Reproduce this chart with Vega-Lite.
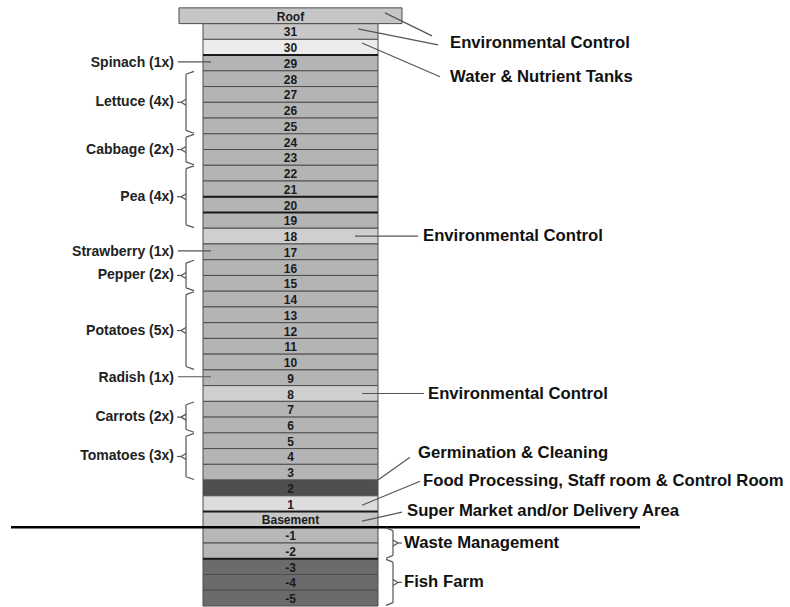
{
  "$schema": "https://vega.github.io/schema/vega-lite/v6.json",
  "width": 790,
  "height": 607,
  "padding": 0,
  "autosize": {"type": "fit", "contains": "padding"},
  "background": "white",
  "config": {
    "view": {"stroke": null},
    "axis": {"disable": true},
    "legend": {"disable": true},
    "text": {"font": "Liberation Sans", "fontWeight": "bold", "baseline": "middle"}
  },
  "datasets": {
    "floors": [
      {"floor": "Roof", "level": 32, "use": "roof"},
      {"floor": "31", "level": 31, "use": "environment"},
      {"floor": "30", "level": 30, "use": "water"},
      {"floor": "29", "level": 29, "use": "crops"},
      {"floor": "28", "level": 28, "use": "crops"},
      {"floor": "27", "level": 27, "use": "crops"},
      {"floor": "26", "level": 26, "use": "crops"},
      {"floor": "25", "level": 25, "use": "crops"},
      {"floor": "24", "level": 24, "use": "crops"},
      {"floor": "23", "level": 23, "use": "crops"},
      {"floor": "22", "level": 22, "use": "crops"},
      {"floor": "21", "level": 21, "use": "crops"},
      {"floor": "20", "level": 20, "use": "crops"},
      {"floor": "19", "level": 19, "use": "crops"},
      {"floor": "18", "level": 18, "use": "environment2"},
      {"floor": "17", "level": 17, "use": "crops"},
      {"floor": "16", "level": 16, "use": "crops"},
      {"floor": "15", "level": 15, "use": "crops"},
      {"floor": "14", "level": 14, "use": "crops"},
      {"floor": "13", "level": 13, "use": "crops"},
      {"floor": "12", "level": 12, "use": "crops"},
      {"floor": "11", "level": 11, "use": "crops"},
      {"floor": "10", "level": 10, "use": "crops"},
      {"floor": "9", "level": 9, "use": "crops"},
      {"floor": "8", "level": 8, "use": "environment2"},
      {"floor": "7", "level": 7, "use": "crops"},
      {"floor": "6", "level": 6, "use": "crops"},
      {"floor": "5", "level": 5, "use": "crops"},
      {"floor": "4", "level": 4, "use": "crops"},
      {"floor": "3", "level": 3, "use": "crops"},
      {"floor": "2", "level": 2, "use": "germination"},
      {"floor": "1", "level": 1, "use": "processing"},
      {"floor": "Basement", "level": 0, "use": "market"},
      {"floor": "-1", "level": -1, "use": "waste"},
      {"floor": "-2", "level": -2, "use": "waste"},
      {"floor": "-3", "level": -3, "use": "fish"},
      {"floor": "-4", "level": -4, "use": "fish"},
      {"floor": "-5", "level": -5, "use": "fish"}
    ],
    "seams": [
      {"between": "30/29", "level": 29.5},
      {"between": "21/20", "level": 20.5},
      {"between": "20/19", "level": 19.5},
      {"between": "1/Basement", "level": 0.5},
      {"between": "-2/-3", "level": -2.5}
    ],
    "ground": [{"between": "Basement/-1", "level": -0.5}],
    "crops": [
      {"crop": "Spinach (1x)", "top": 29, "bottom": 29, "mid": 29, "kind": "single"},
      {"crop": "Lettuce (4x)", "top": 28, "bottom": 25, "mid": 26.5, "kind": "group"},
      {"crop": "Cabbage (2x)", "top": 24, "bottom": 23, "mid": 23.5, "kind": "group"},
      {"crop": "Pea (4x)", "top": 22, "bottom": 19, "mid": 20.5, "kind": "group"},
      {"crop": "Strawberry (1x)", "top": 17, "bottom": 17, "mid": 17, "kind": "single"},
      {"crop": "Pepper (2x)", "top": 16, "bottom": 15, "mid": 15.5, "kind": "group"},
      {"crop": "Potatoes (5x)", "top": 14, "bottom": 10, "mid": 12, "kind": "group"},
      {"crop": "Radish (1x)", "top": 9, "bottom": 9, "mid": 9, "kind": "single"},
      {"crop": "Carrots (2x)", "top": 7, "bottom": 6, "mid": 6.5, "kind": "group"},
      {"crop": "Tomatoes (3x)", "top": 5, "bottom": 3, "mid": 4, "kind": "group"}
    ],
    "zones": [
      {"zone": "Waste Management", "top": -1, "bottom": -2, "mid": -1.5},
      {"zone": "Fish Farm", "top": -3, "bottom": -5, "mid": -4}
    ],
    "notes": [
      {"id": "envTop", "label": "Environmental Control", "level": 30.27},
      {"id": "water", "label": "Water & Nutrient Tanks", "level": 28.12},
      {"id": "env18", "label": "Environmental Control", "level": 18},
      {"id": "env8", "label": "Environmental Control", "level": 8},
      {"id": "germ", "label": "Germination & Cleaning", "level": 4.2},
      {"id": "food", "label": "Food Processing, Staff room & Control Room", "level": 2.43},
      {"id": "market", "label": "Super Market and/or Delivery Area", "level": 0.53}
    ],
    "leaders": [
      {"id": "roof", "from": 32.18, "to": 30.72},
      {"id": "env31", "from": 31.16, "to": 30.15},
      {"id": "water", "from": 30.27, "to": 28.12},
      {"id": "env18", "from": 18, "to": 18},
      {"id": "env8", "from": 8, "to": 8},
      {"id": "germ", "from": 1.92, "to": 3.95},
      {"id": "food", "from": 0.9, "to": 2.43},
      {"id": "market", "from": -0.11, "to": 0.46}
    ]
  },
  "layer": [
    {
      "data": {"name": "floors"},
      "transform": [{"filter": "datum.floor !== 'Roof'"}],
      "mark": {"type": "rect", "stroke": "#4d4d4d", "strokeWidth": 1, "yOffset": -7.88, "y2Offset": 7.88},
      "encoding": {
        "x": {"datum": 203, "type": "quantitative", "scale": {"domain": [0, 790], "nice": false, "zero": false}, "axis": null},
        "x2": {"datum": 378},
        "y": {"field": "level", "type": "quantitative", "scale": {"domain": [-5.5, 33], "nice": false, "zero": false}, "axis": null},
        "y2": {"field": "level"},
        "fill": {
          "field": "use", "type": "nominal", "legend": null,
          "scale": {
            "domain": ["roof", "environment", "environment2", "water", "crops", "germination", "processing", "market", "waste", "fish"],
            "range": ["#c6c6c6", "#c8c8c8", "#cfcfcf", "#ececec", "#b4b4b4", "#4f4f4f", "#dddddd", "#c6c6c6", "#b7b7b7", "#6b6b6b"]
          }
        }
      }
    },
    {
      "data": {"name": "floors"},
      "transform": [{"filter": "datum.floor === 'Roof'"}],
      "mark": {"type": "rect", "stroke": "#4d4d4d", "strokeWidth": 1, "yOffset": -7.88, "y2Offset": 7.88},
      "encoding": {
        "x": {"datum": 179, "type": "quantitative"},
        "x2": {"datum": 402},
        "y": {"field": "level", "type": "quantitative"},
        "y2": {"field": "level"},
        "fill": {"field": "use", "type": "nominal", "legend": null}
      }
    },
    {
      "data": {"name": "seams"},
      "mark": {"type": "rule", "color": "#1a1a1a", "strokeWidth": 2},
      "encoding": {
        "x": {"datum": 203, "type": "quantitative"},
        "x2": {"datum": 378},
        "y": {"field": "level", "type": "quantitative"}
      }
    },
    {
      "data": {"name": "floors"},
      "mark": {"type": "text", "fontSize": 12, "color": "#1b1b1b", "dy": 1},
      "encoding": {
        "x": {"datum": 290.5, "type": "quantitative"},
        "y": {"field": "level", "type": "quantitative"},
        "text": {"field": "floor"}
      }
    },
    {
      "data": {"name": "ground"},
      "mark": {"type": "rule", "color": "#000000", "strokeWidth": 2.5},
      "encoding": {
        "x": {"datum": 11, "type": "quantitative"},
        "x2": {"datum": 640},
        "y": {"field": "level", "type": "quantitative"}
      }
    },
    {
      "data": {"name": "crops"},
      "mark": {"type": "text", "fontSize": 14, "align": "right", "color": "#222222"},
      "encoding": {
        "x": {"datum": 174, "type": "quantitative"},
        "y": {"field": "mid", "type": "quantitative"},
        "text": {"field": "crop"}
      }
    },
    {
      "data": {"name": "crops"},
      "transform": [{"filter": "datum.kind === 'single'"}],
      "mark": {"type": "rule", "color": "#555555", "strokeWidth": 1.2, "yOffset": -1},
      "encoding": {
        "x": {"datum": 178, "type": "quantitative"},
        "x2": {"datum": 211},
        "y": {"field": "mid", "type": "quantitative"}
      }
    },
    {
      "data": {"name": "crops"},
      "transform": [{"filter": "datum.kind === 'group'"}],
      "layer": [
        {
          "mark": {"type": "rule", "color": "#555555", "strokeWidth": 1.2, "yOffset": -4.5, "y2Offset": 4.5},
          "encoding": {
            "x": {"datum": 186, "type": "quantitative"},
            "y": {"field": "top", "type": "quantitative"},
            "y2": {"field": "bottom"}
          }
        },
        {
          "mark": {"type": "rule", "color": "#555555", "strokeWidth": 1.2, "yOffset": -4.5, "y2Offset": -7.3},
          "encoding": {
            "x": {"datum": 186, "type": "quantitative"},
            "x2": {"datum": 194},
            "y": {"field": "top", "type": "quantitative"},
            "y2": {"field": "top"}
          }
        },
        {
          "mark": {"type": "rule", "color": "#555555", "strokeWidth": 1.2, "yOffset": 4.5, "y2Offset": 7.3},
          "encoding": {
            "x": {"datum": 186, "type": "quantitative"},
            "x2": {"datum": 194},
            "y": {"field": "bottom", "type": "quantitative"},
            "y2": {"field": "bottom"}
          }
        },
        {
          "mark": {"type": "rule", "color": "#555555", "strokeWidth": 1.2, "yOffset": -3},
          "encoding": {
            "x": {"datum": 186, "type": "quantitative"},
            "x2": {"datum": 181},
            "y": {"field": "mid", "type": "quantitative"},
            "y2": {"field": "mid"}
          }
        },
        {
          "mark": {"type": "rule", "color": "#555555", "strokeWidth": 1.2, "yOffset": 3},
          "encoding": {
            "x": {"datum": 186, "type": "quantitative"},
            "x2": {"datum": 181},
            "y": {"field": "mid", "type": "quantitative"},
            "y2": {"field": "mid"}
          }
        },
        {
          "mark": {"type": "rule", "color": "#555555", "strokeWidth": 1.2},
          "encoding": {
            "x": {"datum": 177, "type": "quantitative"},
            "x2": {"datum": 181},
            "y": {"field": "mid", "type": "quantitative"}
          }
        }
      ]
    },
    {
      "data": {"name": "zones"},
      "layer": [
        {
          "mark": {"type": "rule", "color": "#555555", "strokeWidth": 1.2, "yOffset": -4.5, "y2Offset": 4.5},
          "encoding": {
            "x": {"datum": 393, "type": "quantitative"},
            "y": {"field": "top", "type": "quantitative"},
            "y2": {"field": "bottom"}
          }
        },
        {
          "mark": {"type": "rule", "color": "#555555", "strokeWidth": 1.2, "yOffset": -4.5, "y2Offset": -7.3},
          "encoding": {
            "x": {"datum": 393, "type": "quantitative"},
            "x2": {"datum": 386},
            "y": {"field": "top", "type": "quantitative"},
            "y2": {"field": "top"}
          }
        },
        {
          "mark": {"type": "rule", "color": "#555555", "strokeWidth": 1.2, "yOffset": 4.5, "y2Offset": 7.3},
          "encoding": {
            "x": {"datum": 393, "type": "quantitative"},
            "x2": {"datum": 386},
            "y": {"field": "bottom", "type": "quantitative"},
            "y2": {"field": "bottom"}
          }
        },
        {
          "mark": {"type": "rule", "color": "#555555", "strokeWidth": 1.2, "yOffset": -3},
          "encoding": {
            "x": {"datum": 393, "type": "quantitative"},
            "x2": {"datum": 398},
            "y": {"field": "mid", "type": "quantitative"},
            "y2": {"field": "mid"}
          }
        },
        {
          "mark": {"type": "rule", "color": "#555555", "strokeWidth": 1.2, "yOffset": 3},
          "encoding": {
            "x": {"datum": 393, "type": "quantitative"},
            "x2": {"datum": 398},
            "y": {"field": "mid", "type": "quantitative"},
            "y2": {"field": "mid"}
          }
        },
        {
          "mark": {"type": "rule", "color": "#555555", "strokeWidth": 1.2},
          "encoding": {
            "x": {"datum": 398, "type": "quantitative"},
            "x2": {"datum": 402},
            "y": {"field": "mid", "type": "quantitative"}
          }
        },
        {
          "mark": {"type": "text", "fontSize": 16.7, "align": "left", "color": "#111111"},
          "encoding": {
            "x": {"datum": 404, "type": "quantitative"},
            "y": {"field": "mid", "type": "quantitative"},
            "text": {"field": "zone"}
          }
        }
      ]
    },
    {
      "data": {"name": "notes"},
      "transform": [{"filter": "datum.id === 'envTop' || datum.id === 'water'"}],
      "mark": {"type": "text", "fontSize": 16.7, "align": "left", "color": "#111111"},
      "encoding": {"x": {"datum": 450, "type": "quantitative"}, "y": {"field": "level", "type": "quantitative"}, "text": {"field": "label"}}
    },
    {
      "data": {"name": "notes"},
      "transform": [{"filter": "datum.id === 'env18' || datum.id === 'food'"}],
      "mark": {"type": "text", "fontSize": 16.7, "align": "left", "color": "#111111"},
      "encoding": {"x": {"datum": 423, "type": "quantitative"}, "y": {"field": "level", "type": "quantitative"}, "text": {"field": "label"}}
    },
    {
      "data": {"name": "notes"},
      "transform": [{"filter": "datum.id === 'env8'"}],
      "mark": {"type": "text", "fontSize": 16.7, "align": "left", "color": "#111111"},
      "encoding": {"x": {"datum": 428, "type": "quantitative"}, "y": {"field": "level", "type": "quantitative"}, "text": {"field": "label"}}
    },
    {
      "data": {"name": "notes"},
      "transform": [{"filter": "datum.id === 'germ'"}],
      "mark": {"type": "text", "fontSize": 16.7, "align": "left", "color": "#111111"},
      "encoding": {"x": {"datum": 418, "type": "quantitative"}, "y": {"field": "level", "type": "quantitative"}, "text": {"field": "label"}}
    },
    {
      "data": {"name": "notes"},
      "transform": [{"filter": "datum.id === 'market'"}],
      "mark": {"type": "text", "fontSize": 16.7, "align": "left", "color": "#111111"},
      "encoding": {"x": {"datum": 407, "type": "quantitative"}, "y": {"field": "level", "type": "quantitative"}, "text": {"field": "label"}}
    },
    {
      "data": {"name": "leaders"},
      "transform": [{"filter": "datum.id === 'roof'"}],
      "mark": {"type": "rule", "color": "#555555", "strokeWidth": 1.2},
      "encoding": {"x": {"datum": 385, "type": "quantitative"}, "x2": {"datum": 432}, "y": {"field": "from", "type": "quantitative"}, "y2": {"field": "to"}}
    },
    {
      "data": {"name": "leaders"},
      "transform": [{"filter": "datum.id === 'env31'"}],
      "mark": {"type": "rule", "color": "#555555", "strokeWidth": 1.2},
      "encoding": {"x": {"datum": 358, "type": "quantitative"}, "x2": {"datum": 438}, "y": {"field": "from", "type": "quantitative"}, "y2": {"field": "to"}}
    },
    {
      "data": {"name": "leaders"},
      "transform": [{"filter": "datum.id === 'water'"}],
      "mark": {"type": "rule", "color": "#555555", "strokeWidth": 1.2},
      "encoding": {"x": {"datum": 362, "type": "quantitative"}, "x2": {"datum": 440}, "y": {"field": "from", "type": "quantitative"}, "y2": {"field": "to"}}
    },
    {
      "data": {"name": "leaders"},
      "transform": [{"filter": "datum.id === 'env18'"}],
      "mark": {"type": "rule", "color": "#555555", "strokeWidth": 1.2},
      "encoding": {"x": {"datum": 355, "type": "quantitative"}, "x2": {"datum": 418}, "y": {"field": "from", "type": "quantitative"}, "y2": {"field": "to"}}
    },
    {
      "data": {"name": "leaders"},
      "transform": [{"filter": "datum.id === 'env8'"}],
      "mark": {"type": "rule", "color": "#555555", "strokeWidth": 1.2},
      "encoding": {"x": {"datum": 362, "type": "quantitative"}, "x2": {"datum": 424}, "y": {"field": "from", "type": "quantitative"}, "y2": {"field": "to"}}
    },
    {
      "data": {"name": "leaders"},
      "transform": [{"filter": "datum.id === 'germ'"}],
      "mark": {"type": "rule", "color": "#555555", "strokeWidth": 1.2},
      "encoding": {"x": {"datum": 365, "type": "quantitative"}, "x2": {"datum": 410}, "y": {"field": "from", "type": "quantitative"}, "y2": {"field": "to"}}
    },
    {
      "data": {"name": "leaders"},
      "transform": [{"filter": "datum.id === 'food'"}],
      "mark": {"type": "rule", "color": "#555555", "strokeWidth": 1.2},
      "encoding": {"x": {"datum": 362, "type": "quantitative"}, "x2": {"datum": 420}, "y": {"field": "from", "type": "quantitative"}, "y2": {"field": "to"}}
    },
    {
      "data": {"name": "leaders"},
      "transform": [{"filter": "datum.id === 'market'"}],
      "mark": {"type": "rule", "color": "#555555", "strokeWidth": 1.2},
      "encoding": {"x": {"datum": 362, "type": "quantitative"}, "x2": {"datum": 402}, "y": {"field": "from", "type": "quantitative"}, "y2": {"field": "to"}}
    }
  ]
}
